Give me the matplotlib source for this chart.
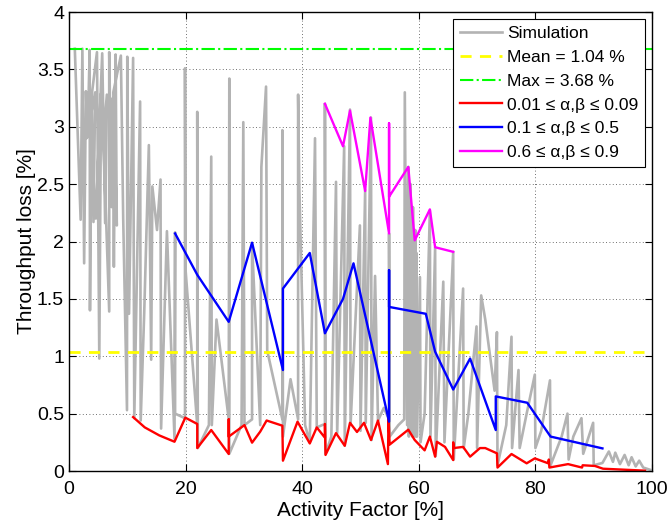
import numpy as np
import matplotlib
matplotlib.use('Agg')
import matplotlib.pyplot as plt

plt.rcParams['font.family'] = ['Liberation Sans', 'DejaVu Sans']

# Simulation (gray) trace
sim_x = [1.0, 2.0, 2.3, 2.6, 2.9, 3.2, 3.55, 3.6, 3.9, 4.2, 4.5, 3.0, 4.8, 5.2, 5.5, 4.6, 5.7, 6.2, 6.5, 5.9, 6.9, 6.9,
         7.3, 7.5, 7.7, 8.0, 8.2, 7.6, 8.9, 9.3, 9.95, 10.0, 10.3, 11.0, 11.2, 12.2, 12.3, 12.9, 13.3, 13.7, 14.1, 14.3,
         15.1, 15.7, 15.8, 16.8, 18.1, 18.2,
         18.2, 19.9, 19.9, 20.0, 22.0, 22.0, 22.1, 24.0, 24.4, 24.5, 25.3, 27.4, 27.5, 27.5, 29.6,
         29.9, 30.1, 31.4, 31.4, 32.8, 33.0, 33.8, 34.0, 36.6, 36.6, 36.7,
         38.0, 39.3, 39.3, 39.5, 40.5, 41.3, 42.2, 42.5, 43.9, 43.9, 44.0, 45.0, 45.8, 46.0, 47.2,
         47.3, 48.2, 48.3, 49.9, 50.0, 50.8, 50.9, 51.8, 51.9, 52.5, 53.0, 54.0, 54.9, 54.9,
         55.0, 56.5, 57.5, 57.6, 58.0, 58.2, 58.3, 58.4, 58.5, 58.6, 58.7, 58.8, 58.9, 59.0, 59.1, 59.2,
         59.3, 59.4, 59.5, 59.6, 59.7, 60.2, 60.3,
         61.0, 61.9, 62.0, 62.8, 62.9, 64.2, 64.4, 65.9, 66.0,
         67.6, 67.7, 68.5, 69.9, 70.0, 70.7, 71.4, 73.0, 73.4, 73.5, 75.0, 75.9, 76.0, 77.1, 77.3,
         78.5, 79.9, 80.0, 81.0, 82.5, 82.6, 84.5, 85.5, 85.7, 86.5, 87.9, 88.2, 89.9, 90.0, 91.5,
         92.6, 93.3, 93.7, 94.5, 95.3, 96.0, 96.5, 97.2, 97.8, 98.5, 99.7]
sim_y = [3.68, 2.19, 3.68, 1.81, 3.31, 2.91, 3.67, 1.40, 3.29, 2.17, 3.30, 2.90, 3.65, 0.98, 3.29, 2.20, 3.64, 2.16, 3.28, 2.90, 1.39, 3.65,
         2.30, 3.25, 1.78, 3.63, 2.14, 3.30, 3.62, 2.20, 0.53, 3.61, 1.37, 3.60, 0.46, 3.22, 0.44, 1.37, 2.11, 2.84, 0.97, 2.48,
         2.10, 2.54, 0.37, 2.09, 0.28, 2.08,
         0.50, 0.46, 3.51, 1.75, 0.40, 3.13, 0.20, 0.40, 2.74, 0.40, 1.32, 0.45, 3.42, 0.15, 0.40,
         3.04, 0.40, 0.45, 1.98, 0.40, 2.65, 3.35, 1.05, 0.45, 2.97, 0.30,
         0.80, 0.45, 3.28, 2.50, 0.40, 0.25, 2.90, 0.38, 0.41, 3.20, 0.15, 0.30, 2.52, 0.33, 2.83,
         0.22, 3.15, 0.41, 2.14, 0.35, 2.45, 0.42, 3.08, 0.27, 1.70, 0.44, 0.55, 0.45, 2.07,
         0.30, 0.40, 0.45, 3.30, 0.40, 2.65, 0.30, 2.40, 0.35, 2.50, 0.35, 2.20, 0.30, 2.30, 0.30, 2.01,
         0.35, 2.10, 0.30, 1.90, 0.30, 1.69, 0.25,
         0.50, 2.27, 0.30, 1.95, 0.13, 1.65, 0.25, 1.91, 0.10,
         1.59, 0.20, 0.50, 1.26, 0.20, 1.53, 1.32, 0.70, 1.21, 0.05, 0.40, 1.17, 0.20, 0.88, 0.20,
         0.50, 0.84, 0.20, 0.35, 0.79, 0.05, 0.30, 0.50, 0.10, 0.30, 0.46, 0.15, 0.42, 0.05, 0.07,
         0.17, 0.08, 0.16, 0.06, 0.14, 0.05, 0.12, 0.04, 0.09, 0.03, 0.01]

mean_val = 1.04
max_val = 3.68

# 0.01 <= alpha,beta <= 0.09
red_x = [11.0, 13.0, 15.5, 18.1, 19.95, 22.0, 22.0, 24.4, 27.4, 27.4, 27.4, 30.1, 31.4, 32.8, 33.9,
         36.6, 36.7, 39.2, 41.3, 42.5, 43.9, 43.9, 44.0, 45.8, 47.3, 48.2, 49.4, 50.6, 51.8, 53.0,
         54.7, 54.8, 55.0, 58.2, 59.3, 61.0, 61.9, 62.8, 63.1, 64.5, 65.9, 65.9, 66.0, 67.6, 68.8,
         70.5, 71.4, 73.4, 73.5, 75.9, 78.5, 79.9, 82.2, 82.3, 82.4, 85.6, 88.0, 88.1, 90.2, 91.6, 98.8]
red_y = [0.47, 0.38, 0.31, 0.255, 0.465, 0.41, 0.20, 0.357, 0.148, 0.45, 0.30, 0.40, 0.247, 0.343, 0.44,
         0.395, 0.09, 0.43, 0.24, 0.38, 0.29, 0.41, 0.14, 0.33, 0.22, 0.42, 0.34, 0.42, 0.27, 0.44,
         0.06, 0.47, 0.23, 0.36, 0.27, 0.18, 0.30, 0.125, 0.255, 0.21, 0.095, 0.25, 0.20, 0.21, 0.125,
         0.20, 0.20, 0.154, 0.03, 0.148, 0.067, 0.11, 0.067, 0.10, 0.03, 0.06, 0.03, 0.05, 0.044, 0.02, 0.003]

# 0.1 <= alpha,beta <= 0.5
blue_x = [18.2, 22.0, 27.4, 31.4, 36.7, 36.7, 41.3, 43.9, 47.0, 48.8, 54.9, 54.9, 54.9, 61.2, 62.8,
          65.9, 68.8, 73.2, 73.2, 78.6, 82.6, 91.5]
blue_y = [2.07, 1.71, 1.30, 1.99, 0.88, 1.59, 1.90, 1.20, 1.50, 1.81, 0.43, 1.75, 1.43, 1.37, 1.04,
          0.71, 0.98, 0.357, 0.65, 0.595, 0.30, 0.197]

# 0.6 <= alpha,beta <= 0.9
mag_x = [43.9, 47.0, 48.2, 50.8, 51.7, 54.9, 54.9, 54.9, 58.2, 59.3, 61.9, 62.8, 65.9]
mag_y = [3.20, 2.83, 3.14, 2.44, 3.08, 2.07, 3.03, 2.39, 2.65, 2.01, 2.28, 1.95, 1.91]

fig = plt.figure(figsize=(6.71, 5.22), dpi=100)
ax = fig.add_axes([0.1028, 0.0977, 0.8689, 0.8793])

ax.plot(sim_x, sim_y, color=(0.7, 0.7, 0.7), lw=1.9, label='Simulation')
ax.axhline(mean_val, color='#ffff00', ls='--', lw=2.0, dashes=(4, 3),
           label='Mean = %.2f %%' % mean_val)
ax.axhline(max_val, color='#00ff00', ls='-.', lw=1.5, label='Max = %.2f %%' % max_val)
ax.plot(red_x, red_y, color='r', lw=1.7, label='0.01 ≤ α,β ≤ 0.09')
ax.plot(blue_x, blue_y, color='b', lw=1.7, label='0.1 ≤ α,β ≤ 0.5')
ax.plot(mag_x, mag_y, color='#ff00ff', lw=1.7, label='0.6 ≤ α,β ≤ 0.9')

ax.set_xlim(0, 100)
ax.set_ylim(0, 4)
ax.set_xticks([0, 20, 40, 60, 80, 100])
ax.set_yticks(np.arange(0, 4.01, 0.5))
ax.set_yticklabels(['0', '0.5', '1', '1.5', '2', '2.5', '3', '3.5', '4'])
ax.tick_params(direction='in', top=True, right=True, labelsize=14, length=5, width=0.8)
ax.tick_params(axis='x', pad=7.5)
ax.grid(True, color='0.25', ls=(0, (1, 3)), lw=0.6)
for s in ax.spines.values():
    s.set_linewidth(1.0)

ax.set_xlabel('Activity Factor [%]', fontsize=15, labelpad=2)
ax.set_ylabel('Throughput loss [%]', fontsize=15, labelpad=1)

leg = ax.legend(loc='upper right', fontsize=12.5, fancybox=False, framealpha=1,
                edgecolor='k', handlelength=2.4, handletextpad=0.3, labelspacing=0.5,
                borderpad=0.4, borderaxespad=0.4)
leg.get_frame().set_linewidth(0.8)

fig.savefig('out.png', dpi=100)
